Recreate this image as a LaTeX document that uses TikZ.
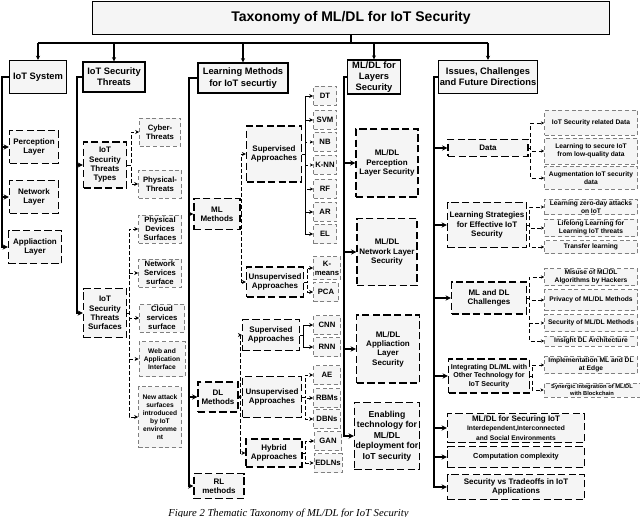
\documentclass[tikz,border=0pt]{standalone}
\usepackage{fontspec}
\setmainfont{Liberation Sans}
\newfontfamily\capfont{Liberation Serif}
\usetikzlibrary{arrows.meta}
\newlength\upx \setlength\upx{0.75pt}
\begin{document}
\begin{tikzpicture}[x=0.75pt,y=-0.75pt,
 base/.style={fill=gray!8,align=center,inner sep=1pt,font=\bfseries\fontsize{6}{7}\selectfont},
 hdr/.style={base,draw,line width=1.1pt,font=\bfseries\fontsize{7}{8.4}\selectfont},
 mid/.style={base,draw,line width=0.9pt,dash pattern=on 5.5pt off 2.5pt},
 leaf/.style={base,draw=gray,line width=0.5pt,densely dashed,font=\bfseries\fontsize{5}{6}\selectfont},
 sleaf/.style={leaf,font=\bfseries\fontsize{5.8}{6.8}\selectfont},
 con/.style={line width=0.9pt,-{Stealth[length=3pt,width=3pt]}},
 mcon/.style={line width=0.7pt,dash pattern=on 3pt off 1.5pt,-{Stealth[length=3pt,width=3pt]}},
 lcon/.style={line width=0.4pt,densely dashed,-{Stealth[length=2.5pt,width=2.5pt]}},
 spine/.style={line width=1.4pt,-{Stealth[length=4pt,width=4pt]}}]
\useasboundingbox (0,0) rectangle (640,517);
% title
\node[hdr,minimum width=517\upx,minimum height=33\upx,font=\bfseries\fontsize{10.5}{12}\selectfont] (t) at (351,18) {Taxonomy of ML/DL for IoT Security};
% headers
\node[hdr,minimum width=57\upx,minimum height=33\upx] (h1) at (38,77) {IoT System};
\node[hdr,minimum width=62\upx,minimum height=30\upx] (h2) at (114,77) {IoT Security\\Threats};
\node[hdr,minimum width=90\upx,minimum height=30\upx] (h3) at (243,78) {Learning Methods\\for IoT securtiy};
\node[hdr,minimum width=53\upx,minimum height=33\upx] (h4) at (374,77) {ML/DL for\\Layers\\Security};
\node[hdr,minimum width=99\upx,minimum height=33\upx] (h5) at (488,77) {Issues, Challenges\\and Future Directions};
\coordinate (tb) at (351,43);
\draw[line width=1.2pt] (t.south) -- (tb);
\draw[line width=1.2pt] (h1.north|-tb) -- (h5.north|-tb);
\foreach \h in {h1,h2,h3,h4,h5} \draw[con] (\h.north|-tb) -- (\h.north);
% column 1
\node[mid,minimum width=49\upx,minimum height=33\upx] (c1a) at (34,147) {Perception\\Layer};
\node[mid,minimum width=49\upx,minimum height=33\upx] (c1b) at (34,197) {Network\\Layer};
\node[mid,minimum width=53\upx,minimum height=33\upx] (c1c) at (35,247) {Appliaction\\Layer};
\foreach \c in {c1a,c1b,c1c} \draw[spine] (h1.west) -- ++(-7,0) |- (\c.west);
% column 2
\node[mid,minimum width=43\upx,minimum height=46\upx] (tt) at (105,165) {IoT\\Security\\Threats\\Types};
\node[mid,minimum width=43\upx,minimum height=49\upx] (ts) at (105,313) {IoT\\Security\\Threats\\Surfaces};
\foreach \c in {tt,ts} \draw[spine] (h2.west) -- ++(-5,0) |- (\c.west);
\node[sleaf,minimum width=41\upx,minimum height=28\upx] (cy) at (160,132) {Cyber-\\Threats};
\node[sleaf,minimum width=43\upx,minimum height=28\upx] (ph) at (160,184) {Physical-\\Threats};
\foreach \c in {cy,ph} \draw[mcon] (tt.east) -- ++(4,0) |- (\c.west);
\node[sleaf,minimum width=43\upx,minimum height=28\upx] (s1) at (160,229) {Physical\\Devices\\Surfaces};
\node[sleaf,minimum width=43\upx,minimum height=28\upx] (s2) at (160,273) {Network\\Services\\surface};
\node[sleaf,minimum width=45\upx,minimum height=28\upx] (s3) at (162,318) {Cloud\\services\\surface};
\node[leaf,minimum width=46\upx,minimum height=35\upx] (s4) at (162,359) {Web and\\Application\\Interface};
\node[leaf,minimum width=43\upx,minimum height=61\upx] (s5) at (160,417) {New attack\\surfaces\\introduced\\by IoT\\environme\\nt};
\foreach \c in {s1,s2,s3,s4,s5} \draw[mcon] (ts.east) -- ++(2,0) |- (\c.west);
% column 3
\node[mid,minimum width=46\upx,minimum height=31\upx] (ml) at (217,214) {ML\\Methods};
\node[mid,minimum width=40\upx,minimum height=30\upx] (dl) at (218,397) {DL\\Methods};
\node[mid,minimum width=50\upx,minimum height=25\upx] (rl) at (219,486) {RL\\methods};
\foreach \c in {ml,dl,rl} \draw[spine] (h3.west) -- ++(-8,0) |- (\c.west);
\node[mid,minimum width=55\upx,minimum height=56\upx] (msup) at (274,154) {Supervised\\Approaches};
\node[mid,minimum width=57\upx,minimum height=30\upx] (muns) at (275,282) {Unsupervised\\Approaches};
\foreach \c in {msup,muns} \draw[mcon] (ml.east) -- ++(1,0) |- (\c.west);
\foreach \n/\t/\y in {dt/DT/96,svm/SVM/120,nb/NB/142,knn/K-NN/165,rf/RF/189,ar/AR/212,el/EL/234}
  \node[sleaf,minimum width=23\upx,minimum height=19\upx] (\n) at (325,\y) {\t};
\foreach \c in {dt,svm,ar,el} \draw[con,line width=0.7pt] (msup.east) -- ++(3,0) |- (\c.west);
\foreach \c in {nb,knn,rf} \draw[lcon] (msup.east) -- ++(3,0) |- (\c.west);
\node[sleaf,minimum width=27\upx,minimum height=23\upx] (km) at (327,268) {K-\\means};
\node[sleaf,minimum width=25\upx,minimum height=19\upx] (pca) at (326,292) {PCA};
\foreach \c in {km,pca} \draw[mcon] (muns.east) -- ++(3,0) |- (\c.west);
\node[mid,minimum width=57\upx,minimum height=31\upx] (dsup) at (271,335) {Supervised\\Approaches};
\node[mid,minimum width=59\upx,minimum height=41\upx] (duns) at (272,397) {Unsupervised\\Approaches};
\node[mid,minimum width=56\upx,minimum height=28\upx] (dhyb) at (274,453) {Hybrid\\Approaches};
\foreach \c in {dsup,duns,dhyb} \draw[mcon] (dl.east) -- ++(2,0) |- (\c.west);
\foreach \n/\t/\y in {cnn/CNN/325,rnn/RNN/347}
  {\node[sleaf,minimum width=27\upx,minimum height=19\upx] (\n) at (327,\y) {\t};
   \draw[con,line width=0.7pt] (dsup.east) -- ++(3,0) |- (\n.west);}
\foreach \n/\t/\y in {ae/AE/375,rbm/RBMs/398,dbn/DBNs/419}
  {\node[sleaf,minimum width=27\upx,minimum height=19\upx] (\n) at (327,\y) {\t};
   \draw[mcon] (duns.east) -- ++(3,0) |- (\n.west);}
\foreach \n/\t/\y in {gan/GAN/441,edl/EDLNs/463}
  {\node[sleaf,minimum width=27\upx,minimum height=19\upx] (\n) at (328,\y) {\t};
   \draw[mcon] (dhyb.east) -- ++(3,0) |- (\n.west);}
% column 4
\node[mid,minimum width=62\upx,minimum height=68\upx] (l1) at (387,163) {ML/DL\\Perception\\Layer Security};
\node[mid,minimum width=60\upx,minimum height=67\upx] (l2) at (387,252) {ML/DL\\Network Layer\\Security};
\node[mid,minimum width=63\upx,minimum height=68\upx] (l3) at (388,349) {ML/DL\\Appliaction\\Layer\\Security};
\node[mid,minimum width=62\upx,minimum height=67\upx,font=\bfseries\fontsize{6.5}{7.8}\selectfont] (l4) at (387,436) {Enabling\\technology for\\ML/DL\\deployment for\\IoT security};
\foreach \c in {l1,l2,l3,l4} \draw[spine] (h4.west) -- ++(-3,0) |- (\c.west);
% column 5
\node[mid,minimum width=80\upx,minimum height=17\upx] (i1) at (488,148) {Data};
\node[mid,minimum width=79\upx,minimum height=45\upx] (i2) at (487,225) {Learning Strategies\\for Effective IoT\\Security};
\node[mid,minimum width=75\upx,minimum height=32\upx] (i3) at (489,298) {ML and DL\\Challenges};
\node[mid,minimum width=81\upx,minimum height=34\upx,font=\bfseries\fontsize{5.3}{6.5}\selectfont] (i4) at (489,376) {Integrating DL/ML with\\Other Technology for\\IoT Security};
\node[mid,minimum width=137\upx,minimum height=29\upx] (i5) at (516,428) {ML/DL for Securing IoT\\{\fontsize{5}{6}\selectfont Interdependent,Interconnected}\\{\fontsize{5}{6}\selectfont and Social Environments}};
\node[mid,minimum width=137\upx,minimum height=21\upx,font=\bfseries\fontsize{5.5}{6.5}\selectfont] (i6) at (516,457) {Computation complexity};
\node[mid,minimum width=137\upx,minimum height=25\upx] (i7) at (516,487) {Security vs Tradeoffs in IoT\\Applications};
\foreach \c in {i1,i2,i3,i4,i5,i6,i7} \draw[spine] (h5.west) -- ++(-4,0) |- (\c.west);
\foreach \n/\t/\y/\h/\p in {
  d1/{IoT Security related Data}/123/25/i1,
  d2/{Learning to secure IoT\\from low-quality data}/151/26/i1,
  d3/{Augmentation IoT security\\data}/178/23/i1,
  e1/{Learning zero-day attacks\\on IoT}/207/15/i2,
  e2/{Lifelong Learning for\\Learning IoT threats}/228/17/i2,
  e3/{Transfer learning}/247/13/i2,
  f1/{Misuse of ML/DL\\Algorithms by Hackers}/277/17/i3,
  f2/{Privacy of ML/DL Methods}/300/21/i3,
  f3/{Security of ML/DL Methods}/323/17/i3,
  f4/{Insight DL Architecture}/341/10/i3,
  g1/{Implementation ML and DL\\at Edge}/365/17/i4}
 {\node[leaf,minimum width=93\upx,minimum height=\h\upx] (\n) at (591,\y) {\t};
  \draw[lcon] (\p.east) -- ++(2,0) |- (\n.west);}
\node[leaf,minimum width=96\upx,minimum height=14\upx,font=\bfseries\fontsize{4.3}{5.2}\selectfont] (g2) at (592,390) {Synergic Integration of ML/DL\\with Blockchain};
\draw[lcon] (i4.east) -- ++(2,0) |- (g2.west);
% caption
\node[font=\capfont\itshape\fontsize{8}{9}\selectfont,anchor=west,inner sep=0] (cap) at (168,514) {Figure 2 Thematic Taxonomy of ML/DL for IoT Security};
\end{tikzpicture}
\end{document}
